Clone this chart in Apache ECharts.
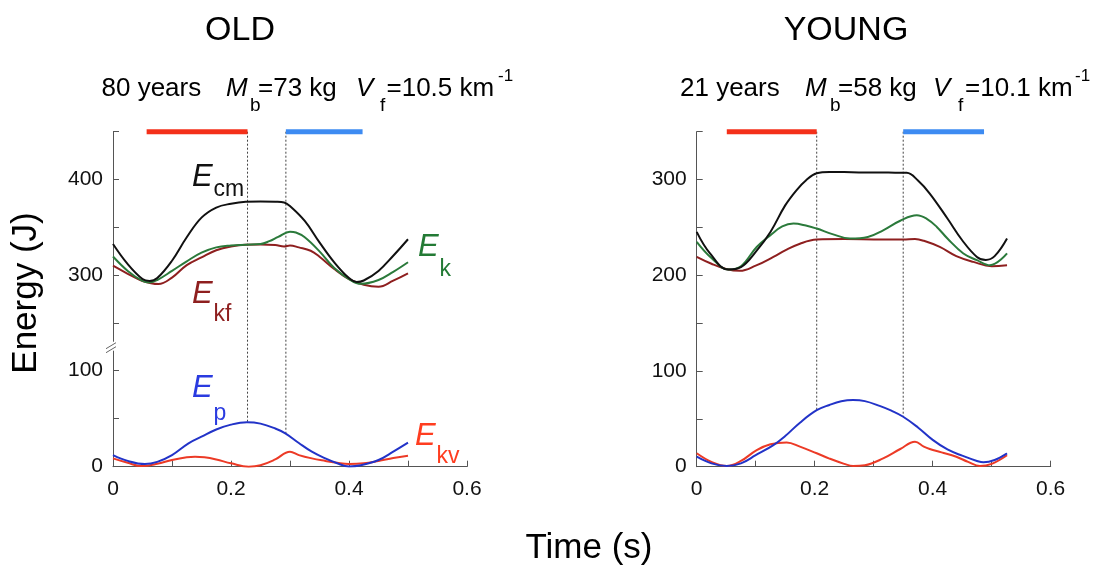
<!DOCTYPE html>
<html>
<head>
<meta charset="utf-8">
<script src="https://cdn.jsdelivr.net/npm/echarts@6/dist/echarts.min.js"></script>
<style>
html,body{margin:0;padding:0;background:#fff;}
#chart{width:1097px;height:571px;}
</style>
</head>
<body>
<div id="chart"></div>
<script>
// ---------- DATA ----------
var panelTitles = ['OLD', 'YOUNG'];
var xTickLabels = ['0', '0.2', '0.4', '0.6'];

// OLD subject, [time (s), energy (J)]
var oldEcm = [[0,333],[0.025,312],[0.05,296.5],[0.062,294.5],[0.075,297.5],[0.1,315.6],[0.125,340],[0.15,360.5],[0.175,371],[0.2,375],[0.225,377],[0.25,377.3],[0.275,377],[0.29,376.3],[0.3,372.5],[0.325,357],[0.35,334.7],[0.375,313.9],[0.4,297.5],[0.413,293.5],[0.425,295],[0.45,305],[0.475,320.8],[0.5,338]];
var oldEk = [[0,320],[0.025,305],[0.05,294.5],[0.062,293],[0.075,295.5],[0.1,305],[0.125,315],[0.15,324],[0.175,329.5],[0.2,331.5],[0.225,332.3],[0.25,333],[0.265,336],[0.28,340.5],[0.3,345.8],[0.31,345],[0.325,340],[0.35,325.3],[0.375,308],[0.4,296.5],[0.42,291.5],[0.45,295.5],[0.475,304],[0.5,314]];
var oldEkf = [[0,310.4],[0.025,302],[0.05,294.5],[0.077,291.3],[0.1,298],[0.125,311],[0.15,319],[0.175,326.5],[0.2,330.5],[0.225,332.3],[0.25,332.5],[0.275,332],[0.29,330.5],[0.3,331.5],[0.315,329.5],[0.335,326],[0.35,319.8],[0.375,307],[0.4,296.5],[0.425,290.6],[0.45,288.5],[0.475,294.8],[0.5,302.4]];
var oldEp = [[0,12],[0.025,6],[0.054,2.8],[0.075,5],[0.1,12],[0.128,24.2],[0.15,31],[0.175,38.5],[0.2,43.5],[0.227,45.9],[0.25,44.5],[0.275,39.5],[0.292,34.5],[0.315,24.5],[0.337,15.5],[0.36,8.5],[0.38,3.5],[0.4,0.3],[0.42,1.5],[0.45,6.9],[0.475,15.5],[0.5,24.8]];
var oldEkv = [[0,8.6],[0.025,4],[0.048,0.7],[0.075,3],[0.1,7],[0.125,9.8],[0.139,10.3],[0.155,9.8],[0.175,7.5],[0.2,3.5],[0.23,0],[0.25,1.5],[0.275,7.5],[0.3,15.5],[0.315,12],[0.337,8.6],[0.36,6],[0.38,4],[0.4,2.8],[0.425,3.5],[0.45,6],[0.475,9],[0.5,11.4]];
var oldPhaseRed = [0.057, 0.228];
var oldPhaseBlue = [0.293, 0.423];
var oldMarkTimes = [0.228, 0.293];
var oldMarkEnds = [45.9, 34.5];

// YOUNG subject
var youngEcm = [[0,245.3],[0.0226,222.8],[0.0536,206],[0.075,208.5],[0.1,224.4],[0.125,245.3],[0.15,273],[0.169,288.8],[0.185,299],[0.2034,306.5],[0.225,307.8],[0.25,307.8],[0.275,307.5],[0.3,307.5],[0.325,307.3],[0.356,307],[0.375,299],[0.395,285.4],[0.425,259.3],[0.45,236.6],[0.475,219.2],[0.49,216],[0.505,220],[0.526,238.4]];
var youngEk = [[0,234.9],[0.025,218],[0.054,206],[0.075,209.5],[0.1017,229.6],[0.125,241.9],[0.145,251],[0.164,254],[0.185,252],[0.2034,248.8],[0.23,243],[0.26,238.4],[0.29,240],[0.316,247],[0.345,257],[0.373,262.7],[0.39,259],[0.407,250.5],[0.425,238.4],[0.452,222.8],[0.475,215.8],[0.497,210.5],[0.526,222.8]];
var youngEkf = [[0,219.2],[0.025,212],[0.05,206.5],[0.073,204.6],[0.1,210],[0.13,219.2],[0.15,226],[0.175,233],[0.2034,237.3],[0.25,237.8],[0.3,237.5],[0.35,237.3],[0.37,237.8],[0.385,236],[0.412,229.6],[0.44,220],[0.469,214],[0.5,209.5],[0.526,210.5]];
var youngEp = [[0,10.4],[0.025,3.5],[0.051,0.7],[0.075,3.5],[0.1,12],[0.13,22.6],[0.15,32],[0.175,46],[0.2034,59],[0.225,64.5],[0.245,68.3],[0.265,69.6],[0.285,68.5],[0.31,63.5],[0.33,58.5],[0.35,52.2],[0.375,41],[0.4,28],[0.425,18],[0.45,11.5],[0.475,6],[0.486,4.6],[0.505,7],[0.526,14]];
var youngEkv = [[0,14],[0.025,5],[0.051,0.7],[0.075,6],[0.1017,17.4],[0.125,23.5],[0.1525,25.4],[0.175,21],[0.2034,14],[0.225,8.5],[0.25,3],[0.265,0.7],[0.285,1.5],[0.316,8.7],[0.345,18.5],[0.37,26.1],[0.385,21],[0.395,18.5],[0.415,15],[0.44,10.4],[0.46,5],[0.48,0.7],[0.5,3],[0.526,12]];
var youngPhaseRed = [0.051, 0.2034];
var youngPhaseBlue = [0.35, 0.487];
var youngMarkTimes = [0.2034, 0.35];
var youngMarkEnds = [59, 52.2];

// ---------- STYLE ----------
var FONT = '"Liberation Sans", Arial, Helvetica, sans-serif';
var C = {ecm:'#111111', ek:'#2b7a3b', ekf:'#8e1f1f', ep:'#2233c8', ekv:'#ec3a26', barRed:'#f4301a', barBlue:'#3d8bf2', axis:'#555555', dot:'#444444'};

var chart = echarts.init(document.getElementById('chart'), null, {renderer:'canvas'});

function xLabelFmt(v){
  var k = Math.round(v*10);
  if (k % 2 !== 0) return '';
  return xTickLabels[k/2];
}
function lineS(name, data, color, xi, yi){
  return {type:'line', name:name, data:data, xAxisIndex:xi, yAxisIndex:yi, symbol:'none', smooth:0.4,
    lineStyle:{color:color, width:2}, itemStyle:{color:color}, z:3, silent:true};
}
function barS(range, yv, color, xi, yi){
  return {type:'line', data:[[range[0],yv],[range[1],yv]], xAxisIndex:xi, yAxisIndex:yi, symbol:'none',
    lineStyle:{color:color, width:5, cap:'butt'}, clip:false, z:5, silent:true};
}
function dotS(t, y0, y1, xi, yi){
  return {type:'line', data:[[t,y0],[t,y1]], xAxisIndex:xi, yAxisIndex:yi, symbol:'none',
    lineStyle:{color:C.dot, width:1, type:[2,2]}, clip:false, z:2, silent:true};
}

var axisLabelStyle = {color:'#111', fontSize:21, fontFamily:FONT};
function xAxisVisible(gi){
  return {gridIndex:gi, type:'value', min:0, max:0.6, interval:0.1,
    axisLine:{show:true, lineStyle:{color:C.axis, width:1}},
    axisTick:{show:true, inside:true, length:6, lineStyle:{color:C.axis}},
    axisLabel:Object.assign({formatter:xLabelFmt, margin:12, showMaxLabel:true, showMinLabel:true}, axisLabelStyle),
    splitLine:{show:false}};
}

// geometry
var GL = 113, GW = 354, GR = 696.7;
var TOP = 131.7, AXY = 466.7;
var SPLIT = 347.7;

var option = {
  animation:false,
  backgroundColor:'#fff',
  grid:[
    {left:GL, top:TOP, width:GW, height:SPLIT-TOP},
    {left:GL, top:SPLIT, width:GW, height:AXY-SPLIT},
    {left:GR, top:TOP, width:GW, height:AXY-TOP}
  ],
  xAxis:[
    {gridIndex:0, type:'value', min:0, max:0.6, show:false},
    xAxisVisible(1),
    xAxisVisible(2)
  ],
  yAxis:[
    {gridIndex:0, type:'value', min:225, max:450,
      axisLine:{show:true, lineStyle:{color:C.axis}},
      axisTick:{show:true, inside:true, length:6, customValues:[250,300,350,400,450], lineStyle:{color:C.axis}},
      axisLabel:Object.assign({customValues:[300,400], margin:10}, axisLabelStyle),
      splitLine:{show:false}},
    {gridIndex:1, type:'value', min:0, max:123,
      axisLine:{show:true, lineStyle:{color:C.axis}},
      axisTick:{show:true, inside:true, length:6, customValues:[0,50,100], lineStyle:{color:C.axis}},
      axisLabel:Object.assign({customValues:[0,100], margin:10}, axisLabelStyle),
      splitLine:{show:false}},
    {gridIndex:2, type:'value', min:0, max:350, interval:50,
      axisLine:{show:true, lineStyle:{color:C.axis}},
      axisTick:{show:true, inside:true, length:6, lineStyle:{color:C.axis}},
      axisLabel:Object.assign({margin:10, formatter:function(v){return v%100===0? String(v):'';}}, axisLabelStyle),
      splitLine:{show:false}}
  ],
  series:[
    // OLD upper
    dotS(oldMarkTimes[0], 450, 225, 0, 0),
    dotS(oldMarkTimes[1], 450, 225, 0, 0),
    lineS('Ekf', oldEkf, C.ekf, 0, 0),
    lineS('Ek', oldEk, C.ek, 0, 0),
    lineS('Ecm', oldEcm, C.ecm, 0, 0),
    barS(oldPhaseRed, 450, C.barRed, 0, 0),
    barS(oldPhaseBlue, 450, C.barBlue, 0, 0),
    // OLD lower
    dotS(oldMarkTimes[0], 123, oldMarkEnds[0], 1, 1),
    dotS(oldMarkTimes[1], 123, oldMarkEnds[1], 1, 1),
    lineS('Ekv', oldEkv, C.ekv, 1, 1),
    lineS('Ep', oldEp, C.ep, 1, 1),
    // YOUNG
    dotS(youngMarkTimes[0], 350, youngMarkEnds[0], 2, 2),
    dotS(youngMarkTimes[1], 350, youngMarkEnds[1], 2, 2),
    lineS('Ekf', youngEkf, C.ekf, 2, 2),
    lineS('Ek', youngEk, C.ek, 2, 2),
    lineS('Ecm', youngEcm, C.ecm, 2, 2),
    lineS('Ekv', youngEkv, C.ekv, 2, 2),
    lineS('Ep', youngEp, C.ep, 2, 2),
    barS(youngPhaseRed, 350, C.barRed, 2, 2),
    barS(youngPhaseBlue, 350, C.barBlue, 2, 2)
  ]
};

function txt(x, y, s, size, color, opts){
  opts = opts || {};
  return {type:'text', x:x, y:y, rotation:opts.rotation||0, z:10, silent:true,
    style:{text:s, fill:color, font:(opts.italic?'italic ':'')+size+'px '+FONT,
      align:opts.align||'left', verticalAlign:'middle'}};
}
var g = [];
// titles
g.push(txt(240, 31, panelTitles[0], 34, '#000', {align:'center'}));
g.push(txt(846, 31, panelTitles[1], 34, '#000', {align:'center'}));
// subtitles
function subtitle(xs, years, mass, speed){
  g.push(txt(xs[0], 88.7, years, 26, '#000'));
  g.push(txt(xs[1], 88.7, 'M', 26, '#000', {italic:true}));
  g.push(txt(xs[2], 106, 'b', 19, '#000'));
  g.push(txt(xs[3], 88.7, mass, 26, '#000'));
  g.push(txt(xs[4], 88.7, 'V', 26, '#000', {italic:true}));
  g.push(txt(xs[5], 106, 'f', 19, '#000'));
  g.push(txt(xs[6], 88.7, speed, 26, '#000'));
  g.push(txt(xs[7], 76, '-1', 17, '#000'));
}
subtitle([101.5, 226, 250, 258, 356, 380, 386.5, 498], '80 years', '=73 kg', '=10.5 km');
subtitle([680, 805, 830, 838, 933, 958, 965, 1075], '21 years', '=58 kg', '=10.1 km');
// axis titles
g.push(txt(26, 293, 'Energy (J)', 35, '#000', {align:'center', rotation:Math.PI/2}));
g.push(txt(589, 548, 'Time (s)', 35, '#000', {align:'center'}));
// curve labels (OLD panel)
function elabel(x, y, sub, ys, color){
  g.push(txt(x, y, 'E', 31, color, {italic:true}));
  g.push(txt(x+21.5, ys, sub, 23, color));
}
elabel(192, 177, 'cm', 190, C.ecm);
elabel(418, 247, 'k', 270, '#237a35');
elabel(192, 294, 'kf', 315, C.ekf);
elabel(192, 388, 'p', 414, '#2a3be0');
elabel(415, 436, 'kv', 457, '#ff3d20');
// axis break marks
g.push({type:'rect', shape:{x:GL-2, y:SPLIT-6, width:4, height:9}, style:{fill:'#fff'}, z:11, silent:true});
g.push({type:'line', shape:{x1:GL-7, y1:SPLIT+1, x2:GL+3, y2:SPLIT-5}, style:{stroke:'#666', lineWidth:1}, z:12, silent:true});
g.push({type:'line', shape:{x1:GL-7, y1:SPLIT+5, x2:GL+3, y2:SPLIT-1}, style:{stroke:'#666', lineWidth:1}, z:12, silent:true});
option.graphic = g;

chart.setOption(option);
</script>
</body>
</html>
